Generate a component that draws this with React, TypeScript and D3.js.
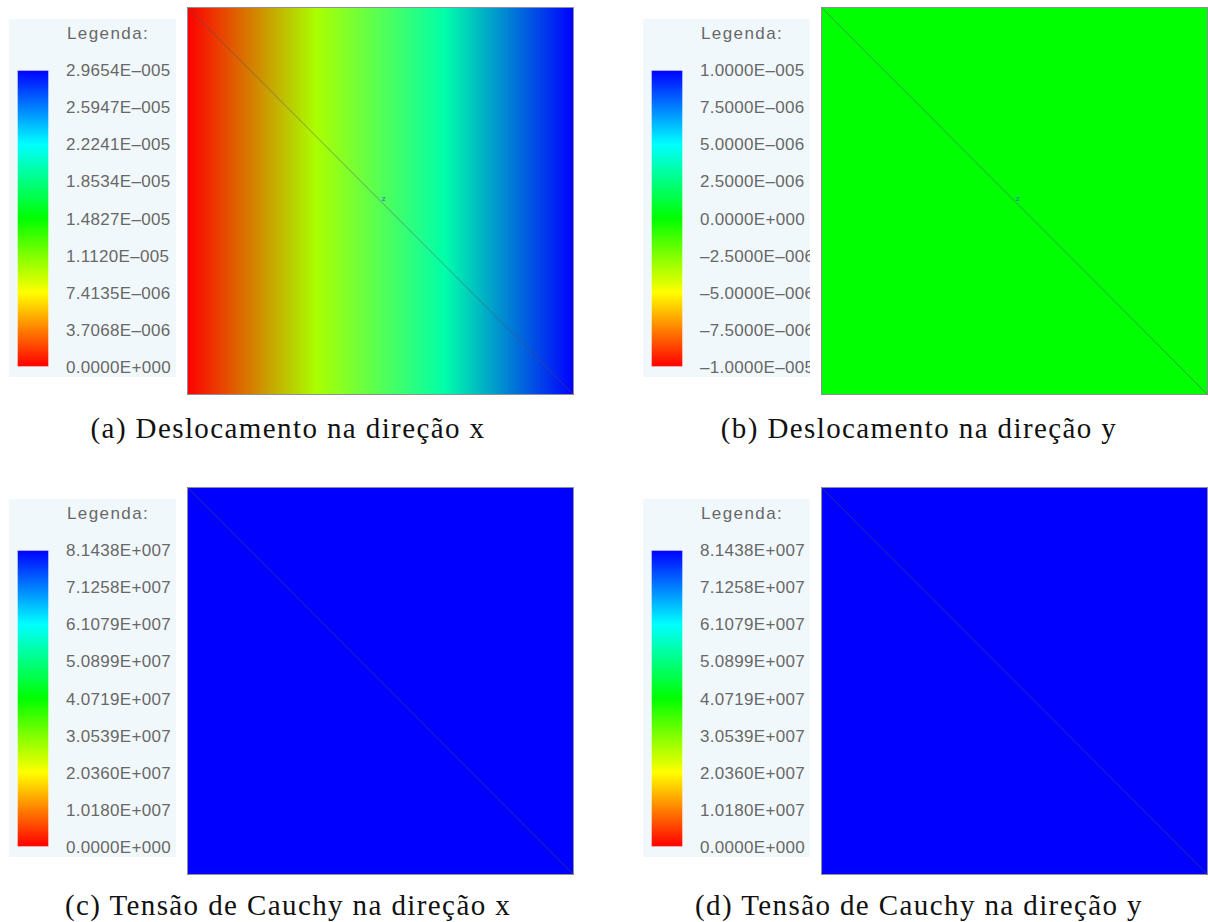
import React from "react";
import * as d3 from "d3";

// Colour legend tick labels, top to bottom, for each result field
const labelsA = ["2.9654E–005", "2.5947E–005", "2.2241E–005", "1.8534E–005", "1.4827E–005", "1.1120E–005", "7.4135E–006", "3.7068E–006", "0.0000E+000"];
const labelsB = ["1.0000E–005", "7.5000E–006", "5.0000E–006", "2.5000E–006", "0.0000E+000", "–2.5000E–006", "–5.0000E–006", "–7.5000E–006", "–1.0000E–005"];
const labelsC = ["8.1438E+007", "7.1258E+007", "6.1079E+007", "5.0899E+007", "4.0719E+007", "3.0539E+007", "2.0360E+007", "1.0180E+007", "0.0000E+000"];
const labelsD = ["8.1438E+007", "7.1258E+007", "6.1079E+007", "5.0899E+007", "4.0719E+007", "3.0539E+007", "2.0360E+007", "1.0180E+007", "0.0000E+000"];

// Field range [min, max] of each legend
const rangeA = [0, 2.9654e-5];
const rangeB = [-1e-5, 1e-5];
const rangeC = [0, 8.1438e7];
const rangeD = [0, 8.1438e7];

// Nodal values along x (0, 1/3, 2/3, 1 of the plate width)
const nodeX = [0, 1 / 3, 2 / 3, 1];
const nodesA = [0, 9.8847e-6, 1.9769e-5, 2.9654e-5];
const nodesB = [0, 0, 0, 0];
const nodesC = [8.1438e7, 8.1438e7, 8.1438e7, 8.1438e7];
const nodesD = [8.1438e7, 8.1438e7, 8.1438e7, 8.1438e7];

const captions = [
  "(a) Deslocamento na direção x",
  "(b) Deslocamento na direção y",
  "(c) Tensão de Cauchy na direção x",
  "(d) Tensão de Cauchy na direção y",
];

const colormap = d3
  .scaleLinear<string>()
  .domain([0, 0.25, 0.5, 0.75, 1])
  .range(["#ff0000", "#ffff00", "#00ff00", "#00ffff", "#0000ff"])
  .interpolate(d3.interpolateRgb);

const legendStops = [0, 0.125, 0.25, 0.375, 0.5, 0.625, 0.75, 0.875, 1];

type PanelProps = {
  id: string;
  x0: number;
  y0: number;
  labels: string[];
  range: number[];
  nodes: number[];
  showZ: boolean;
};

function Panel({ id, x0, y0, labels, range, nodes, showZ }: PanelProps) {
  // layout relative to panel origin
  const bg = { x: x0, y: y0 + 12, w: 167, h: 358 };
  const barX = x0 + 8;
  const barW = 32;
  const labelX = x0 + 57;
  const plot = { x: x0 + 178.5, y: y0 + 0.5, w: 386, h: 387 };

  const yScale = d3.scaleLinear().domain([0, labels.length - 1]).range([y0 + 63, y0 + 360]);
  const norm = d3.scaleLinear().domain(range).range([0, 1]).clamp(true);
  const xScale = d3.scaleLinear().domain([0, 1]).range([plot.x, plot.x + plot.w]);

  return (
    <g>
      <defs>
        <linearGradient id={`bar-${id}`} x1="0" y1="1" x2="0" y2="0">
          {legendStops.map((t) => (
            <stop key={t} offset={t} stopColor={colormap(t)} />
          ))}
        </linearGradient>
        <linearGradient id={`field-${id}`} gradientUnits="userSpaceOnUse" x1={xScale(0)} y1="0" x2={xScale(1)} y2="0">
          {nodeX.map((t, i) => (
            <stop key={t} offset={t} stopColor={colormap(norm(nodes[i]))} />
          ))}
        </linearGradient>
        <clipPath id={`clip-${id}`}>
          <rect x={bg.x} y={bg.y} width={bg.w} height={bg.h} />
        </clipPath>
      </defs>

      {/* legend */}
      <rect x={bg.x} y={bg.y} width={bg.w} height={bg.h} fill="#f1f8fb" />
      <rect
        x={barX + 0.5}
        y={yScale(0) + 0.5}
        width={barW - 1}
        height={yScale(labels.length - 1) - yScale(0) - 1}
        fill={`url(#bar-${id})`}
        stroke="#ffffff"
        strokeOpacity={0.35}
      />
      <g clipPath={`url(#clip-${id})`} fontFamily="Liberation Sans" fontSize={17} fill="#686868">
        <text x={labelX + 1} y={yScale(-1) + 6} letterSpacing={1.4}>
          Legenda:
        </text>
        {labels.map((l, i) => (
          <text key={i} x={labelX} y={yScale(i) + 6} letterSpacing={0.3}>
            {l}
          </text>
        ))}
      </g>

      {/* field */}
      <rect x={plot.x} y={plot.y} width={plot.w} height={plot.h} fill={`url(#field-${id})`} stroke="#8e8e96" strokeWidth={1} />
      <line x1={plot.x} y1={plot.y} x2={plot.x + plot.w} y2={plot.y + plot.h} stroke="#505064" strokeOpacity={0.5} strokeWidth={1} />
      {showZ && (
        <text x={plot.x + plot.w / 2 + 3} y={plot.y + plot.h / 2 - 0.5} fontFamily="DejaVu Sans" fontSize={7} fill="#2060e0" textAnchor="middle">
          z
        </text>
      )}
    </g>
  );
}

export default function App() {
  const W = 1208;
  const H = 922;
  const panels = [
    { id: "a", x0: 9, y0: 7, labels: labelsA, range: rangeA, nodes: nodesA, showZ: true },
    { id: "b", x0: 643, y0: 7, labels: labelsB, range: rangeB, nodes: nodesB, showZ: true },
    { id: "c", x0: 9, y0: 487, labels: labelsC, range: rangeC, nodes: nodesC, showZ: false },
    { id: "d", x0: 643, y0: 487, labels: labelsD, range: rangeD, nodes: nodesD, showZ: false },
  ];
  const capPos = [
    { x: 288, y: 438 },
    { x: 919, y: 438 },
    { x: 288, y: 915 },
    { x: 919, y: 915 },
  ];
  return (
    <svg width={W} height={H} style={{ position: "absolute", left: 0, top: 0, background: "#fff" }}>
      <rect width={W} height={H} fill="#fff" />
      {panels.map((p) => (
        <Panel key={p.id} {...p} />
      ))}
      {captions.map((c, i) => (
        <text key={i} x={capPos[i].x} y={capPos[i].y} textAnchor="middle" fontFamily="Liberation Serif" fontSize={29} letterSpacing={1.4} fill="#111">
          {c}
        </text>
      ))}
    </svg>
  );
}
